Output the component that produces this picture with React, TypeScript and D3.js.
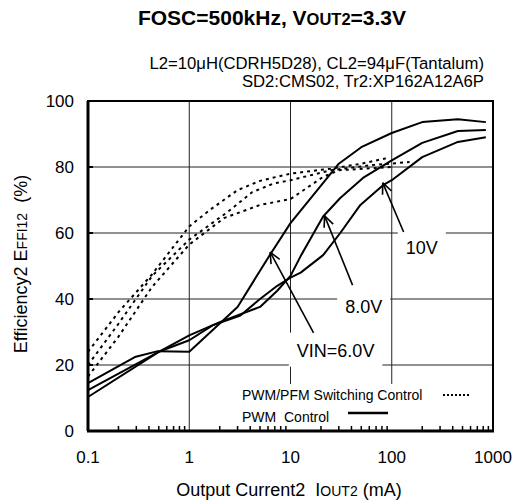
import * as d3 from 'd3';
import { useEffect, useRef } from 'react';

// PWM control (solid), [Iout mA, efficiency %]
const pwm6V: [number, number][] = [
    [0.1, 14.5], [0.29, 22.4], [0.49, 24.2], [1, 24], [3, 37.6], [6.3, 53.5], [10, 63],
    [30, 81], [50, 86], [100, 90.3], [200, 93.6], [450, 94.5], [850, 93.6],
];
const pwm8V: [number, number][] = [
    [0.1, 12.4], [0.5, 24], [1, 29], [2, 33], [5, 37.6], [7.4, 42.5], [10, 47], [12.6, 53],
    [21, 65], [31, 70.6], [52, 76.7], [100, 82], [200, 87.3], [450, 90.9], [850, 91.2],
];
const pwm10V: [number, number][] = [
    [0.1, 10.3], [0.5, 24], [1, 27.5], [1.7, 32], [3.2, 35], [5, 40], [7.4, 44], [10, 46.5],
    [12.6, 48], [21, 53.3], [31, 60], [49, 68.5], [82, 74.5], [100, 76], [200, 83], [450, 87.6], [850, 89],
];

// PWM/PFM switching control (dotted)
const pfmA: [number, number][] = [
    [0.1, 24], [0.2, 36], [0.43, 47.5], [1, 62], [1.6, 67], [3, 73], [5, 75.8], [10, 78],
    [25, 79.5], [50, 81], [90, 82.7],
];
const pfmB: [number, number][] = [
    [0.1, 20], [0.2, 32.5], [0.43, 47], [1, 58], [2.4, 66.4], [4.2, 72.4], [6.8, 75], [10, 76],
    [25, 79], [60, 80.5], [150, 81.5],
];
const pfmC: [number, number][] = [
    [0.1, 16.5], [0.2, 28.6], [0.43, 43.7], [1, 56.5], [2.2, 64.5], [5, 68.5], [10, 70.3],
    [21, 77], [30, 79], [100, 80],
];

const yTicks = [0, 20, 40, 60, 80, 100];
const xTicks = [0.1, 1, 10, 100, 1000];
const xTickLabels = ['0.1', '1', '10', '100', '1000'];

// labels with arrows, in data units
const callouts = [
    { text: 'VIN=6.0V', x: 27.9, y: 24.5, tipX: 6.3, tipY: 54.2, tailX: 16.9, tailY: 29.7 },
    { text: '8.0V', x: 52.8, y: 37.6, tipX: 21.7, tipY: 65.2, tailX: 41, tailY: 44.2 },
    { text: '10V', x: 198, y: 55.5, tipX: 81.5, tipY: 75.2, tailX: 131, tailY: 60.3 },
];

const FONT = 'Arial, "Liberation Sans", Helvetica, sans-serif';

export default function App() {
    const svgRef = useRef<SVGSVGElement>(null);
    useEffect(() => {
        if (!svgRef.current) return;
        const svg = d3.select(svgRef.current);
        svg.selectAll('*').remove();

        const x = d3.scaleLog().domain([0.1, 1000]).range([88, 493]);
        const y = d3.scaleLinear().domain([0, 100]).range([431, 101]);

        const grid = svg.append('g');
        const boxes = svg.append('g');
        const curves = svg.append('g');
        const frame = svg.append('g');
        const texts = svg.append('g').attr('font-family', FONT).attr('fill', '#000');

        // grid
        [20, 40, 60, 80].forEach((v) => {
            grid.append('line')
                .attr('x1', x(0.1)).attr('x2', x(1000))
                .attr('y1', y(v)).attr('y2', y(v))
                .attr('stroke', '#222').attr('stroke-width', 1);
        });
        [1, 10, 100].forEach((v) => {
            grid.append('line')
                .attr('x1', x(v)).attr('x2', x(v))
                .attr('y1', y(0)).attr('y2', y(100))
                .attr('stroke', '#222').attr('stroke-width', 1);
        });

        // curves
        const line = d3.line<[number, number]>()
            .x((d) => x(d[0]))
            .y((d) => y(d[1]));
        [pwm6V, pwm8V, pwm10V].forEach((s) => {
            curves.append('path').datum(s)
                .attr('d', line)
                .attr('fill', 'none').attr('stroke', '#000').attr('stroke-width', 2)
                .attr('stroke-linejoin', 'round');
        });
        [pfmA, pfmB, pfmC].forEach((s) => {
            curves.append('path').datum(s)
                .attr('d', line)
                .attr('fill', 'none').attr('stroke', '#000').attr('stroke-width', 2)
                .attr('stroke-dasharray', '3,4');
        });

        // frame
        frame.append('rect')
            .attr('x', x(0.1)).attr('y', y(100))
            .attr('width', x(1000) - x(0.1)).attr('height', y(0) - y(100))
            .attr('fill', 'none').attr('stroke', '#000').attr('stroke-width', 2);
        frame.append('line')
            .attr('x1', x(0.1) - 1).attr('x2', x(1000) + 1)
            .attr('y1', y(0)).attr('y2', y(0))
            .attr('stroke', '#000').attr('stroke-width', 3);
        frame.append('line')
            .attr('x1', x(0.1)).attr('x2', x(0.1))
            .attr('y1', y(100)).attr('y2', y(0))
            .attr('stroke', '#000').attr('stroke-width', 3);
        [20, 40, 60, 80].forEach((v) => {
            frame.append('line')
                .attr('x1', x(0.1)).attr('x2', x(0.1) + 5)
                .attr('y1', y(v)).attr('y2', y(v))
                .attr('stroke', '#000').attr('stroke-width', 2);
        });
        [0.1, 1, 10, 100].forEach((d) => {
            d3.range(2, 10).forEach((k) => {
                frame.append('line')
                    .attr('x1', x(d * k)).attr('x2', x(d * k))
                    .attr('y1', y(0)).attr('y2', y(0) - 5)
                    .attr('stroke', '#000').attr('stroke-width', 1.5);
            });
        });

        // tick labels
        yTicks.forEach((v) => {
            texts.append('text')
                .attr('x', 74).attr('y', y(v) + 6)
                .attr('text-anchor', 'end').attr('font-size', 17)
                .text(v);
        });
        xTicks.forEach((v, i) => {
            texts.append('text')
                .attr('x', x(v)).attr('y', 463)
                .attr('text-anchor', 'middle').attr('font-size', 17)
                .text(xTickLabels[i]);
        });

        // title
        const title = texts.append('text')
            .attr('x', 272).attr('y', 25)
            .attr('text-anchor', 'middle').attr('font-size', 21).attr('font-weight', 'bold');
        title.append('tspan').text('FOSC=500kHz, V');
        title.append('tspan').attr('font-size', 16.5).text('OUT2');
        title.append('tspan').text('=3.3V');

        // conditions
        texts.append('text')
            .attr('x', 484).attr('y', 69).attr('text-anchor', 'end').attr('font-size', 16.7)
            .text('L2=10\u03bcH(CDRH5D28), CL2=94\u03bcF(Tantalum)');
        texts.append('text')
            .attr('x', 484).attr('y', 87).attr('text-anchor', 'end').attr('font-size', 16.7)
            .text('SD2:CMS02, Tr2:XP162A12A6P');

        // axis titles
        const xt = texts.append('text')
            .attr('x', 289).attr('y', 496).attr('text-anchor', 'middle').attr('font-size', 18)
            .style('white-space', 'pre');
        xt.append('tspan').text('Output Current2  I');
        xt.append('tspan').attr('font-size', 14).text('OUT2');
        xt.append('tspan').text(' (mA)');

        const yt = texts.append('text')
            .attr('transform', 'translate(27,264) rotate(-90)')
            .attr('text-anchor', 'middle').attr('font-size', 18)
            .style('white-space', 'pre');
        yt.append('tspan').text('Efficiency2 E');
        yt.append('tspan').attr('font-size', 14).text('FFI12');
        yt.append('tspan').text('  (%)');

        // callouts with open arrowheads
        callouts.forEach((c) => {
            const t = texts.append('text')
                .attr('x', x(c.x)).attr('y', y(c.y) + 6.5)
                .attr('text-anchor', 'middle').attr('font-size', 18)
                .text(c.text);
            const bb = (t.node() as SVGTextElement).getBBox();
            boxes.append('rect')
                .attr('x', bb.x - 8).attr('y', bb.y - 8)
                .attr('width', bb.width + 16).attr('height', bb.height + 14)
                .attr('fill', '#fff');
            const x1 = x(c.tailX), y1 = y(c.tailY), x2 = x(c.tipX), y2 = y(c.tipY);
            const a = Math.atan2(y1 - y2, x1 - x2);
            const g = texts.append('g').attr('stroke', '#000').attr('stroke-width', 1.6).attr('fill', 'none');
            g.append('line').attr('x1', x1).attr('y1', y1).attr('x2', x2).attr('y2', y2);
            [-0.42, 0.42].forEach((da) => {
                g.append('line')
                    .attr('x1', x2).attr('y1', y2)
                    .attr('x2', x2 + 12 * Math.cos(a + da)).attr('y2', y2 + 12 * Math.sin(a + da));
            });
        });

        // legend
        const l1 = texts.append('text')
            .attr('x', 242).attr('y', 400).attr('font-size', 14)
            .text('PWM/PFM Switching Control');
        const l2 = texts.append('text')
            .attr('x', 242).attr('y', 422).attr('font-size', 14)
            .style('white-space', 'pre')
            .text('PWM  Control');
        const b1 = (l1.node() as SVGTextElement).getBBox();
        const b2 = (l2.node() as SVGTextElement).getBBox();
        boxes.append('rect')
            .attr('x', b1.x - 4).attr('y', b1.y - 3)
            .attr('width', 240).attr('height', b2.y + b2.height - b1.y + 8)
            .attr('fill', '#fff');
        texts.append('line')
            .attr('x1', 443).attr('x2', 471).attr('y1', 395).attr('y2', 395)
            .attr('stroke', '#000').attr('stroke-width', 2).attr('stroke-dasharray', '2,2');
        texts.append('line')
            .attr('x1', 348).attr('x2', 388).attr('y1', 413).attr('y2', 413)
            .attr('stroke', '#000').attr('stroke-width', 2.5);
    }, []);

    return (
        <svg ref={svgRef} width={520} height={504} style={{ position: 'absolute', left: 0, top: 0, background: '#fff' }} />
    );
}
